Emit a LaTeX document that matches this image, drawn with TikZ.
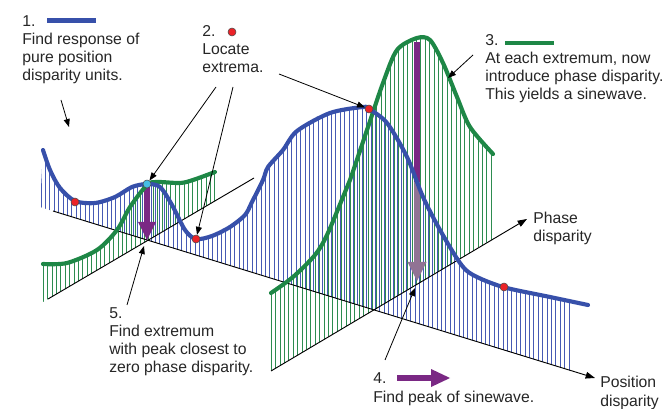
\documentclass[tikz,border=0pt]{standalone}
\usepackage{fontspec}
\setmainfont{Liberation Sans}
\usetikzlibrary{arrows.meta}
\definecolor{cblue}{RGB}{55,80,170}
\definecolor{hblue}{RGB}{70,90,180}
\definecolor{cgreen}{RGB}{30,135,70}
\definecolor{hgreen}{RGB}{45,140,80}
\definecolor{cpurple}{RGB}{122,40,132}
\definecolor{cmauve}{RGB}{145,115,148}
\definecolor{cred}{RGB}{235,35,40}
\definecolor{ccyan}{RGB}{70,190,230}
\begin{document}
\begin{tikzpicture}[x=0.75pt,y=-0.75pt,
  lbl/.style={font=\fontsize{11.8}{13.5}\selectfont, align=left, anchor=base west, inner sep=0pt, text=black!85},
  ann/.style={-{Triangle[length=6pt,width=4.5pt]}, line width=0.6pt, black},
  axisline/.style={line width=0.7pt, black},
  hatchb/.style={hblue, line width=0.7pt},
  hatchg/.style={hgreen, line width=0.7pt},
  bcurve/.style={cblue, line width=3.1pt, line cap=round, line join=round},
  gcurve/.style={cgreen, line width=3.1pt, line cap=round, line join=round},
  reddot/.style={circle, fill=cred, draw=black!70, line width=0.4pt, minimum size=6pt, inner sep=0pt},
  cyandot/.style={circle, fill=ccyan, draw=black!70, line width=0.4pt, minimum size=6pt, inner sep=0pt},
]
\useasboundingbox[fill=white] (0,0) rectangle (667,409);

% ---- blue hatching (position disparity response)
\begin{scope}
\clip plot[smooth] coordinates {(43,150) (50,170) (60,188) (75,201) (95,203) (115,197) (132,187) (147,184) (160,187) (172,205) (185,230) (196,239) (212,236) (230,227) (245,215) (252,202) (263,180) (268,167) (283,150) (297,131) (330,113) (363,107) (369,109) (387,123) (407,157) (423,197) (440,230) (460,263) (473,275) (503,287) (550,297) (588,305)}
  -- (588,376) -- (40,207) -- cycle;
\foreach \x in {41,45.4,...,573} \draw[hatchb] (\x,0) -- (\x,409);
\end{scope}

% ---- green hatching, left sinewave
\begin{scope}
\clip plot[smooth] coordinates {(43,264) (67,263) (97,250) (117,230) (130,207) (147,185) (157,182) (180,183) (193,180) (215,172)}
  -- (215,201) -- (43,302) -- cycle;
\foreach \x in {43.2,47.6,...,216} \draw[hatchg] (\x,0) -- (\x,409);
\end{scope}

% ---- green hatching, big sinewave
\begin{scope}
\clip plot[smooth] coordinates {(271,293) (293,277) (315,255) (327,235) (343,197) (350,180) (367,130) (383,83) (397,50) (417,38) (430,40) (443,63) (457,97) (470,127) (493,154)}
  -- (493,239) -- (271,371) -- cycle;
\foreach \x in {271.2,275.6,...,494} \draw[hatchg] (\x,0) -- (\x,409);
\end{scope}

% ---- axes
\coordinate (pos0) at (53,211);
\coordinate (pos1) at (595,378);
\coordinate (phL0) at (48,299);
\coordinate (phL1) at (254,178);
\coordinate (phR0) at (271,371);
\coordinate (phR1) at (527,219);
\draw[axisline, -{Triangle[length=7pt,width=5pt]}] (pos0) -- (pos1);
\draw[axisline] (phL0) -- (phL1);
\draw[axisline, -{Triangle[length=7pt,width=5pt]}] (phR0) -- (phR1);

% ---- purple arrows (drop to zero phase)
\draw[cpurple, line width=4.2pt] (147,187) -- (147,223);
\fill[cpurple] (138,222) -- (156,222) -- (147,240) -- cycle;
\draw[cpurple, line width=5pt] (417,42) -- (417,182);
\draw[cmauve, line width=5pt] (417,182) -- (417,263);
\fill[cmauve] (407.5,262) -- (426.5,262) -- (417,281) -- cycle;

% ---- curves
\draw[gcurve] plot[smooth] coordinates {(43,264) (67,263) (97,250) (117,230) (130,207) (147,185) (157,182) (180,183) (193,180) (215,172)};
\draw[gcurve] plot[smooth] coordinates {(271,293) (293,277) (315,255) (327,235) (343,197) (350,180) (367,130) (383,83) (397,50) (417,38) (430,40) (443,63) (457,97) (470,127) (493,154)};
\draw[bcurve] plot[smooth] coordinates {(43,150) (50,170) (60,188) (75,201) (95,203) (115,197) (132,187) (147,184) (160,187) (172,205) (185,230) (196,239) (212,236) (230,227) (245,215) (252,202) (263,180) (268,167) (283,150) (297,131) (330,113) (363,107) (369,109) (387,123) (407,157) (423,197) (440,230) (460,263) (473,275) (503,287) (550,297) (588,305)};

% ---- extrema dots
\node[reddot] (e1) at (75,202) {};
\node[cyandot] (e2) at (147,184) {};
\node[reddot] (e3) at (196,239) {};
\node[reddot] (e4) at (369,109) {};
\node[reddot] (e5) at (504,287) {};

% ---- labels (anchored at the baseline of their last line)
\node[lbl] (t1) at (22,81) {1.\\Find response of\\pure position\\disparity units.};
\draw[cblue, line width=3.4pt] (47,20.5) -- (96,20.5);
\node[lbl] (t2) at (202,73) {2.\\Locate\\extrema.};
\node[reddot] (leg2) at (232,32) {};
\node[lbl] (t3) at (485,100) {3.\\At each extremum, now\\introduce phase disparity.\\This yields a sinewave.};
\draw[cgreen, line width=3.4pt] (505,43) -- (554,43);
\node[lbl] (tph) at (533,242) {Phase\\disparity};
\node[lbl] (tpos) at (600,406) {Position\\disparity};
\node[lbl] (t4) at (373,383) {4.};
\node[lbl] (t4b) at (373,402) {Find peak of sinewave.};
\draw[cpurple, line width=5pt] (397,378) -- (432,378);
\fill[cpurple] (431,369) -- (431,387) -- (450,378) -- cycle;
\node[lbl] (t5) at (109,373) {5.\\Find extremum\\with peak closest to\\zero phase disparity.};

% ---- annotation arrows
\coordinate (a1s) at (61,100);
\coordinate (a1e) at (69,127);
\draw[ann] (a1s) -- (a1e);
\coordinate (a2a) at (216,87);
\coordinate (a2b) at (233,87);
\coordinate (a2c) at (279,74);
\draw[ann] (a2a) -- (e2);
\draw[ann] (a2b) -- (e3);
\draw[ann] (a2c) -- (e4);
\coordinate (a3s) at (473,55);
\coordinate (a3e) at (448,78);
\draw[ann] (a3s) -- (a3e);
\coordinate (a4s) at (385,360);
\coordinate (a4e) at (415,288);
\draw[ann] (a4s) -- (a4e);
\coordinate (a5s) at (127,305);
\coordinate (a5e) at (144,246);
\draw[ann] (a5s) -- (a5e);
\end{tikzpicture}
\end{document}
